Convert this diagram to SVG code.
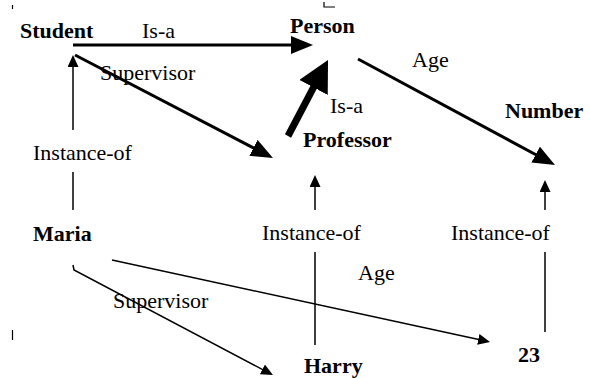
<svg xmlns="http://www.w3.org/2000/svg" width="590" height="378" viewBox="0 0 590 378">
<style>
text{font-family:"Liberation Serif","Times New Roman",serif;font-size:22px;fill:#000}
.b{font-weight:bold}
.thick{stroke:#000;stroke-width:3;fill:none}
.huge{stroke:#000;stroke-width:7;fill:none}
.thin{stroke:#000;stroke-width:1.5;fill:none}
.mark{stroke:#000;stroke-width:1.2;fill:none}
</style>
<defs>
<marker id="mBig" markerUnits="userSpaceOnUse" markerWidth="22" markerHeight="18" refX="12" refY="9" orient="auto"><path d="M0,0 L22,9 L0,18 Z" fill="#000"/></marker>
<marker id="mHuge" markerUnits="userSpaceOnUse" markerWidth="31" markerHeight="32" refX="11" refY="16" orient="auto"><path d="M0,0 L31,16 L0,32 Z" fill="#000"/></marker>
<marker id="mSmall" markerUnits="userSpaceOnUse" markerWidth="12" markerHeight="11" refX="4" refY="5.5" orient="auto"><path d="M0,0 L12,5.5 L0,11 Z" fill="#000"/></marker>
</defs>
<rect width="590" height="378" fill="#fff"/>
<g id="artifacts">
<path class="mark" d="M12.5,5 V9 M324,2 V7 H335 M12.5,330 V340"/>
</g>
<g id="connectors">
<path class="thick" d="M73,45 H303" marker-end="url(#mBig)"/>
<path class="thick" d="M75,55 L264.1,153.4" marker-end="url(#mBig)"/>
<path class="huge" d="M288,136 L318.7,77.7" marker-end="url(#mHuge)"/>
<path class="thick" d="M358,59 L546.2,160.3" marker-end="url(#mBig)"/>
<path class="thin" d="M73,210 V172"/>
<path class="thin" d="M73,130 V63" marker-end="url(#mSmall)"/>
<path class="thin" d="M315,345 V252"/>
<path class="thin" d="M315,210 V183" marker-end="url(#mSmall)"/>
<path class="thin" d="M545,332 V252"/>
<path class="thin" d="M545,210 V188" marker-end="url(#mSmall)"/>
<path class="thin" d="M112,260 L482.2,340.3" marker-end="url(#mSmall)"/>
<path class="thin" d="M73,265 L74,270 L265.9,371.3" marker-end="url(#mSmall)"/>
</g>
<g id="labels">
<text x="142" y="38">Is-a</text>
<text x="100" y="80">Supervisor</text>
<text x="412" y="67">Age</text>
<text x="330" y="113">Is-a</text>
<text x="33" y="160">Instance-of</text>
<text x="262" y="240">Instance-of</text>
<text x="451" y="240">Instance-of</text>
<text x="358" y="280">Age</text>
<text x="113" y="308">Supervisor</text>
</g>
<g id="student"><text class="b" x="20" y="38">Student</text></g>
<g id="person"><text class="b" x="290" y="33">Person</text></g>
<g id="professor"><text class="b" x="303" y="147">Professor</text></g>
<g id="number"><text class="b" x="505" y="118">Number</text></g>
<g id="maria"><text class="b" x="33" y="241">Maria</text></g>
<g id="harry"><text class="b" x="304" y="373">Harry</text></g>
<g id="n23"><text class="b" x="518" y="362">23</text></g>
</svg>
